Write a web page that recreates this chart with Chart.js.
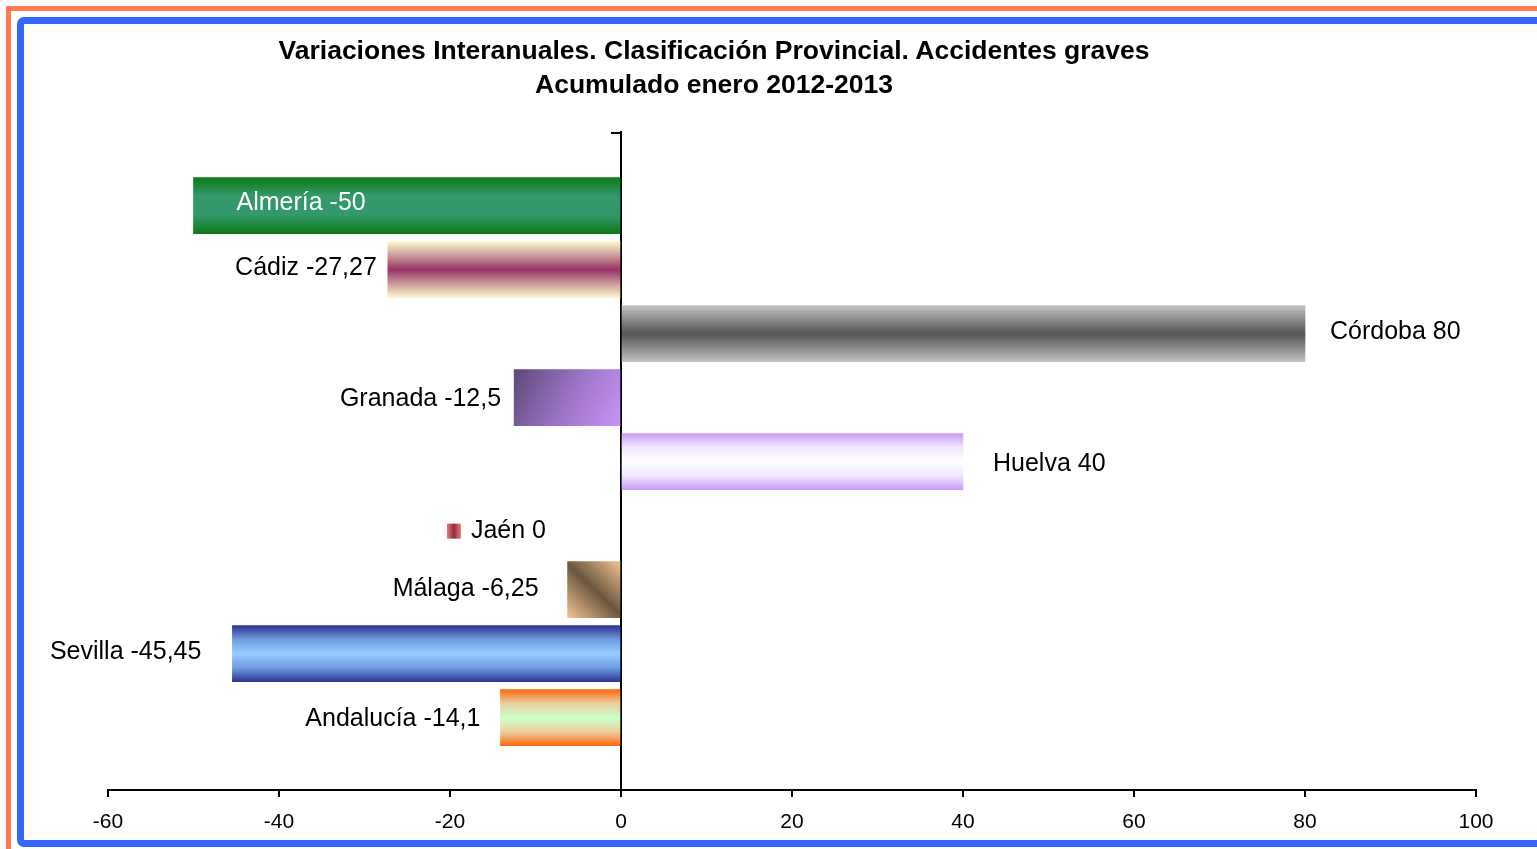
<!DOCTYPE html>
<html>
<head>
<meta charset="utf-8">
<script src="https://cdn.jsdelivr.net/npm/chart.js@4/dist/chart.umd.min.js"></script>
<style>
  html, body { margin: 0; padding: 0; background: #fff; overflow: hidden; }
  #wrap { position: relative; width: 1537px; height: 849px; }
  #chart { position: absolute; left: 0; top: 0; }
  .frameOrange {
    position: absolute; left: 6px; top: 6px; width: 1600px; height: 900px;
    border-top: 5px solid #ff7b54; border-left: 5px solid #ff7b54;
    pointer-events: none;
  }
  .frameBlue {
    position: absolute; left: 17px; top: 17px; width: 1600px; height: 816px;
    border: 7px solid #3366ff; border-radius: 7px;
    pointer-events: none;
  }
  .title {
    position: absolute; left: 0; top: 33px; width: 1428px; text-align: center;
    font: bold 26.5px "Liberation Sans", Arial, sans-serif; line-height: 34px; color: #000;
  }
</style>
</head>
<body>
<div id="wrap">
  <canvas id="chart" width="1537" height="849"></canvas>
  <div class="frameOrange"></div>
  <div class="frameBlue"></div>
  <div class="title">Variaciones Interanuales. Clasificación Provincial. Accidentes graves<br>Acumulado enero 2012-2013</div>
</div>
<script>
const provinces = ["Almería", "Cádiz", "Córdoba", "Granada", "Huelva", "Jaén", "Málaga", "Sevilla", "Andalucía"];
const variation = [-50, -27.27, 80, -12.5, 40, 0, -6.25, -45.45, -14.1];
const xTicks = [-60, -40, -20, 0, 20, 40, 60, 80, 100];

// gradient stops for each bar: [direction, stops]
const fills = [
  ["v", ["#0c7a17", "#33996a", "#33996a", "#0c7a17"]],
  ["v", ["#fdf7cf", "#c99a9a", "#993366", "#c99a9a", "#fdf7cf"]],
  ["v", ["#c2c2c2", "#8a8a8a", "#555555", "#8a8a8a", "#c2c2c2"]],
  ["d", ["#5e4878", "#9a73c4", "#c894f6"]],
  ["v", ["#c89cfa", "#f2e8ff", "#ffffff", "#f2e8ff", "#c89cfa"]],
  ["h", ["#f07878", "#8a3040", "#f07878"]],
  ["a", ["#f3c492", "#6b563e", "#f3c492"]],
  ["v", ["#2e3590", "#6f9de0", "#99ccff", "#6f9de0", "#2e3590"]],
  ["v", ["#ff6a10", "#ead0a0", "#ccffcc", "#ead0a0", "#ff6a10"]],
];
// label placement (Excel labels were nudged by hand)
const labelGap = [43, 11, 25, 13, 30, 75, 29, 31, 20];
const labelDy = [-2, -2, -2, 1, 2, 5, -1, -2, 1];
const labelInside = [true, false, false, false, false, false, false, false, false];

function makeGradient(ctx, spec, x0, y0, x1, y1) {
  let g;
  if (spec[0] === "v") g = ctx.createLinearGradient(0, y0, 0, y1);
  else if (spec[0] === "h") g = ctx.createLinearGradient(x0, 0, x1, 0);
  else if (spec[0] === "d") g = ctx.createLinearGradient(x0, y0, x1, y1);
  else g = ctx.createLinearGradient(x0, y1, x1, y0);
  const stops = spec[1];
  stops.forEach((c, i) => g.addColorStop(i / (stops.length - 1), c));
  return g;
}

const barThickness = 56;

function barFill(context) {
  const chart = context.chart;
  const i = context.dataIndex;
  if (!chart.chartArea || i === undefined) return fills[0][1][0];
  const xs = chart.scales.x, ys = chart.scales.y;
  const yc = ys.getPixelForValue(i);
  const xa = xs.getPixelForValue(Math.min(0, variation[i]));
  const xb = xs.getPixelForValue(Math.max(0, variation[i]));
  return makeGradient(chart.ctx, fills[i], xa, yc - barThickness / 2, xb, yc + barThickness / 2);
}

const barLabels = {
  id: "barLabels",
  afterDatasetsDraw(chart) {
    const ctx = chart.ctx;
    const meta = chart.getDatasetMeta(0);
    const xs = chart.scales.x;
    const top = chart.chartArea.top;
    const x0 = xs.getPixelForValue(0);
    ctx.save();
    // small tick at the top of the vertical axis
    ctx.strokeStyle = "#000";
    ctx.lineWidth = 2;
    ctx.beginPath();
    ctx.moveTo(x0 - 10, top + 1);
    ctx.lineTo(x0, top + 1);
    ctx.stroke();

    ctx.font = '25px "Liberation Sans", Arial, sans-serif';
    ctx.textBaseline = "middle";
    meta.data.forEach((bar, i) => {
      const v = variation[i];
      const text = provinces[i] + " " + String(v).replace(".", ",");
      const y = bar.y + labelDy[i];
      ctx.fillStyle = labelInside[i] ? "#fff" : "#000";
      if (labelInside[i]) {
        ctx.textAlign = "left";
        ctx.fillText(text, bar.x + labelGap[i], y);
      } else if (v > 0) {
        ctx.textAlign = "left";
        ctx.fillText(text, bar.x + labelGap[i], y);
      } else if (v < 0) {
        ctx.textAlign = "right";
        ctx.fillText(text, bar.x - labelGap[i], y);
      } else {
        const w = ctx.measureText(text).width;
        const right = bar.base - labelGap[i];
        ctx.textAlign = "right";
        ctx.fillText(text, right, y);
        const sx = right - w - 24;
        ctx.fillStyle = makeGradient(ctx, fills[i], sx, 0, sx + 14, 0);
        ctx.fillRect(sx, y - 7, 14, 15);
      }
    });
    ctx.restore();
  },
};

new Chart(document.getElementById("chart"), {
  type: "bar",
  data: {
    datasets: [{
      data: provinces.map((p, i) => ({ x: variation[i], y: i })),
      backgroundColor: barFill,
      borderWidth: 0,
      barThickness: barThickness,
    }],
  },
  options: {
    indexAxis: "y",
    responsive: false,
    animation: false,
    devicePixelRatio: 1,
    layout: { padding: { left: 108, right: 61, top: 132, bottom: 19 } },
    plugins: { legend: { display: false }, tooltip: { enabled: false } },
    scales: {
      x: {
        type: "linear",
        min: -60,
        max: 100,
        afterBuildTicks: (scale) => { scale.ticks = xTicks.map((v) => ({ value: v })); },
        afterFit: (scale) => { scale.height = 40; },
        ticks: {
          color: "#000",
          padding: 13,
          font: { family: '"Liberation Sans", Arial, sans-serif', size: 21 },
        },
        grid: { drawOnChartArea: false, tickLength: 7, color: "#000", lineWidth: 2 },
        border: { color: "#000", width: 2 },
      },
      y: {
        type: "linear",
        reverse: true,
        offset: false,
        min: -1.15,
        max: 9.13,
        position: { x: 0 },
        ticks: { display: false },
        grid: { display: false, offset: false },
        border: { color: "#000", width: 2 },
      },
    },
  },
  plugins: [barLabels],
});
</script>
</body>
</html>
